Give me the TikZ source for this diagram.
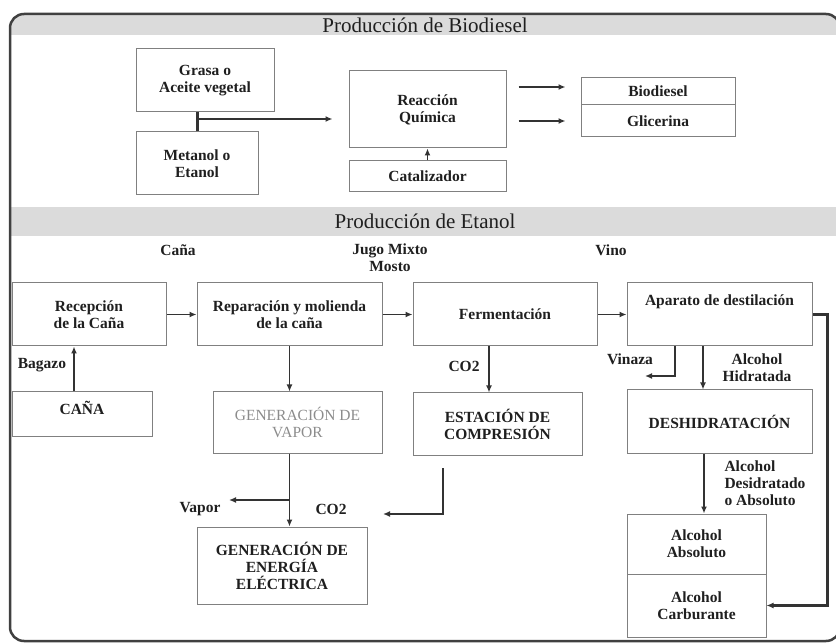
\documentclass[tikz,border=0pt]{standalone}
\usepackage{fontspec}
\setmainfont{Liberation Serif}
\usetikzlibrary{arrows.meta}

\begin{document}
\begin{tikzpicture}[x=1pt, y=-1pt, >={Latex[length=7pt,width=6pt]},
    box/.style={draw=black!50, line width=1pt, align=center, inner sep=2pt,
        font=\bfseries\fontsize{15.5}{17}\selectfont, text=black!88},
    lbl/.style={align=center, font=\bfseries\fontsize{15.5}{17}\selectfont, text=black!88},
    head/.style={font=\fontsize{21}{22}\selectfont, text=black!88},
    flow/.style={->, line width=1.4pt, draw=black!80}]
    \useasboundingbox (0,0) rectangle (836,644);

    % Outer frame and section bands
    \begin{scope}
        \clip[rounded corners=14pt] (10,14) rectangle (840,641);
        \fill[black!14] (10,14) rectangle (840,35);
        \fill[black!14] (10,207) rectangle (840,236);
    \end{scope}
    \draw[line width=2.5pt, black!75, rounded corners=14pt] (10,14) rectangle (840,641);
    \node[head] (hbio) at (425,25) {Producción de Biodiesel};
    \node[head] (heta) at (425,221) {Producción de Etanol};

    % Biodiesel
    \node[box, minimum width=138pt, minimum height=63pt] (grasa) at (205,80.5) {Grasa o\\Aceite vegetal};
    \node[box, minimum width=122pt, minimum height=63pt] (metanol) at (197,163.5) {Metanol o\\Etanol};
    \node[box, minimum width=157pt, minimum height=77pt] (reaccion) at (427.5,109.5) {Reacción\\Química};
    \node[box, minimum width=157pt, minimum height=31pt] (catal) at (427.5,176.5) {Catalizador};
    \node[box, minimum width=154pt, minimum height=27pt] (bio) at (658,91.5) {Biodiesel};
    \node[box, minimum width=154pt, minimum height=32pt] (gli) at (658,121) {Glicerina};

    \coordinate (mezcla) at (metanol.north |- 0,119);
    \draw[line width=3pt, black!80] (metanol.north) -- (metanol.north |- grasa.south);
    \draw[flow, line width=2pt] (mezcla) -- ([xshift=-16pt]reaccion.west |- mezcla);
    \draw[flow] (catal.north) -- (reaccion.south);
    \draw[flow] ([xshift=12pt]reaccion.east |- 0,87) -- ([xshift=-15pt]bio.west |- 0,87);
    \draw[flow] ([xshift=12pt]reaccion.east |- gli) -- ([xshift=-15pt]gli.west);

    % Etanol, first row
    \node[lbl] (lcana) at (178,250) {Caña};
    \node[lbl] (ljugo) at (390,258) {Jugo Mixto\\Mosto};
    \node[lbl] (lvino) at (611,250) {Vino};

    \node[box, minimum width=154pt, minimum height=63pt] (recep) at (89,314.5) {Recepción\\de la Caña};
    \node[box, minimum width=185pt, minimum height=63pt] (repar) at (289.5,314.5) {Reparación y molienda\\de la caña};
    \node[box, minimum width=184pt, minimum height=63pt] (ferm) at (505,314.5) {Fermentación};
    \node[box, minimum width=185pt, minimum height=63pt, text depth=28pt] (apar) at (719.5,314.5) {Aparato de destilación};

    \draw[flow] (recep) -- (repar);
    \draw[flow] (repar) -- (ferm);
    \draw[flow] (ferm) -- (apar);

    % Etanol, second row
    \node[box, minimum width=140pt, minimum height=45pt, text depth=13pt] (cana) at (82,414.5) {CAÑA};
    \node[box, minimum width=169pt, minimum height=61pt, font=\fontsize{15.5}{17}\selectfont, text=black!45] (genvap) at (297.5,422.5) {GENERACIÓN DE\\VAPOR};
    \node[box, minimum width=169pt, minimum height=62pt] (estac) at (497.5,424) {ESTACIÓN DE\\COMPRESIÓN};
    \node[box, minimum width=185pt, minimum height=63pt] (deshid) at (719.5,421.5) {DESHIDRATACIÓN};

    \draw[flow] ([xshift=-8pt]cana.north) -- ([xshift=-8pt]cana.north |- recep.south);
    \node[lbl] (lbagazo) at (42,365) {Bagazo};
    \draw[flow] (repar.south) -- (repar.south |- genvap.north);
    \draw[flow] ([xshift=-16pt]ferm.south) -- ([xshift=-16pt]ferm.south |- estac.north);
    \node[lbl] (lco2a) at (464,366) {CO2};

    \coordinate (vinaza) at (645,376);
    \draw[flow] ([xshift=-44.5pt]apar.south) |- (vinaza);
    \node[lbl] (lvinaza) at (630,359) {Vinaza};
    \draw[flow] ([xshift=-16.5pt]apar.south) -- ([xshift=-16.5pt]apar.south |- deshid.north);
    \node[lbl] (lhidr) at (757,368) {Alcohol\\Hidratada};

    % Etanol, bottom row
    \node[box, minimum width=170pt, minimum height=77pt] (genener) at (282,565.5) {GENERACIÓN DE\\ENERGÍA\\ELÉCTRICA};
    \node[box, minimum width=139pt, minimum height=60pt] (absol) at (696.5,544) {Alcohol\\Absoluto};
    \node[box, minimum width=139pt, minimum height=63pt] (carbur) at (696.5,605.5) {Alcohol\\Carburante};

    \coordinate (vsplit) at (repar.south |- 0,500);
    \coordinate (vapor) at (229,500);
    \draw[flow] (repar.south |- genvap.south) -- (repar.south |- genener.north);
    \draw[flow] (vsplit) -- (vapor);
    \node[lbl] (lvapor) at (200,509) {Vapor};

    \coordinate (co2ini) at (443,468);
    \coordinate (co2fin) at (383,514);
    \draw[flow] (co2ini) |- (co2fin);
    \node[lbl] (lco2b) at (331,509) {CO2};

    \draw[flow] ([xshift=7.5pt]absol.north |- deshid.south) -- ([xshift=7.5pt]absol.north);
    \node[lbl, align=left, anchor=west] (ldesh) at (721,483) {Alcohol\\Desidratado\\o Absoluto};

    \draw[flow, line width=3pt] (apar.east) -- ++(15,0) |- (carbur.east);
\end{tikzpicture}
\end{document}
